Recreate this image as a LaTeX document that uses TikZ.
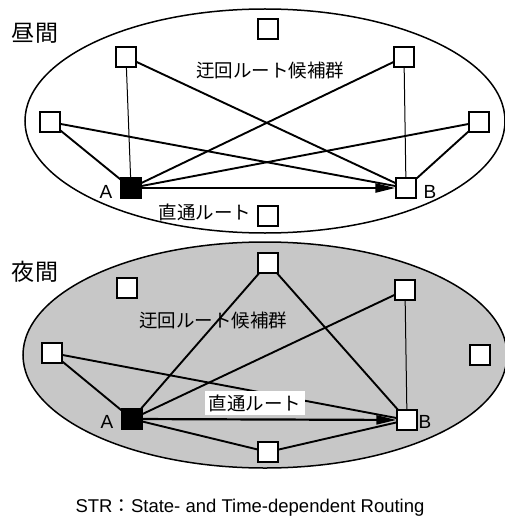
\documentclass[tikz,border=0pt]{standalone}
\usepackage{fontspec}
\setmainfont{Liberation Sans}
\newfontfamily\jp{Noto Sans CJK JP}
\usetikzlibrary{arrows.meta}
\begin{document}
\begin{tikzpicture}[x=1pt,y=-1pt,
  box/.style={draw, line width=1.2pt, fill=white, minimum size=20pt, inner sep=0pt},
  abox/.style={box, fill=black},
  edge/.style={line width=1.9pt},
  vedge/.style={line width=1pt},
  direct/.style={line width=2.2pt, -{Triangle[length=20pt,width=9pt]}},
  jlab/.style={font=\jp\fontsize{18.5}{18.5}\selectfont, inner sep=1pt},
  big/.style={font=\jp\fontsize{23}{23}\selectfont, inner sep=0pt},
  lat/.style={font=\fontsize{19}{19}\selectfont, inner sep=0pt},
  oval/.style={line width=1.5pt}
]
\useasboundingbox (0,0) rectangle (505,516);

% ---------- daytime ----------
\draw[oval] (265,121) ellipse [x radius=240, y radius=112];
\node[big] (day) at (35,33) {昼間};
\node[box] (dt) at (268,29) {};
\node[box] (dul) at (126,57) {};
\node[box] (dur) at (404,57) {};
\node[box] (dl) at (50,122) {};
\node[box] (dr) at (479,122) {};
\node[abox] (da) at (131,188) {};
\node[box] (db) at (406,188) {};
\node[box] (dbc) at (268,216) {};
\node[lat] (dA) at (106,192) {A};
\node[lat] (dB) at (430,192) {B};
\node[jlab] (dalt) at (270,70) {迂回ルート候補群};
\node[jlab] (ddir) at (205,212) {直通ルート};

\draw[vedge] (dul) -- (da);
\draw[vedge] (dur) -- (db);
\draw[edge] (dul) -- (db);
\draw[edge] (dur) -- (da);
\draw[edge] (dl) -- (da);
\draw[edge] (dl) -- (db);
\draw[edge] (dr) -- (da);
\draw[edge] (dr) -- (db);
\draw[direct] (da) -- (db);

% ---------- night ----------
\draw[oval, fill=black!22] (265,355) ellipse [x radius=242, y radius=113];
\node[big] (night) at (35,272) {夜間};
\node[box] (nt) at (268,263) {};
\node[box] (nul) at (127,288) {};
\node[box] (nur) at (405,290) {};
\node[box] (nl) at (52,353) {};
\node[box] (nr) at (480,355) {};
\node[abox] (na) at (132,419) {};
\node[box] (nb) at (407,420) {};
\node[box] (nbc) at (268,452) {};
\node[lat] (nA) at (107,422) {A};
\node[lat] (nB) at (425,422) {B};
\node[jlab] (nalt) at (213,320) {迂回ルート候補群};

\draw[edge] (nt) -- (na);
\draw[edge] (nt) -- (nb);
\draw[edge] (nur) -- (na);
\draw[vedge] (nur) -- (nb);
\draw[edge] (nl) -- (na);
\draw[edge] (nl) -- (nb);
\draw[edge] (na) -- (nbc);
\draw[edge] (nbc) -- (nb);
\draw[direct] (na) -- (nb);
\node[jlab, fill=white, inner xsep=4pt, inner ysep=3pt] (ndir) at (255,403) {直通ルート};

% ---------- caption ----------
\node[font=\fontsize{18.5}{18.5}\selectfont, inner sep=0pt] (cap) at (250,508) {STR{\jp ：}State- and Time-dependent Routing};
\end{tikzpicture}
\end{document}
